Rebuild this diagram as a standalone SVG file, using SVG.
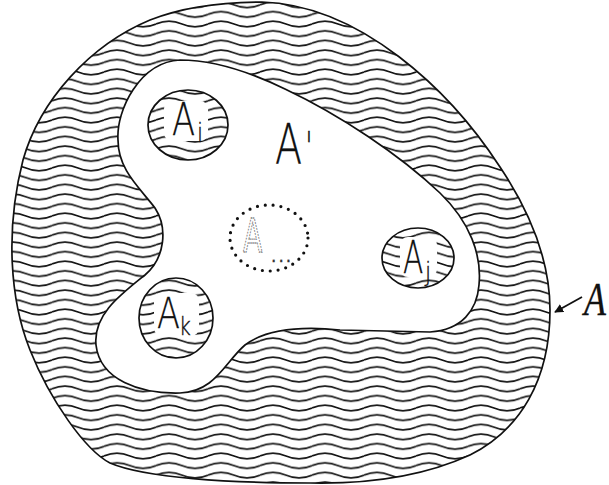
<svg xmlns="http://www.w3.org/2000/svg" width="609" height="485" viewBox="0 0 609 485">
<style>
.bd{stroke:#111;stroke-width:1.7;}
.lbl{font-family:"DejaVu Sans","Liberation Sans",sans-serif;font-weight:200;fill:#111;stroke:#111;stroke-width:0.3;}
.sub{font-family:"DejaVu Sans","Liberation Sans",sans-serif;font-weight:200;fill:#111;stroke:#111;stroke-width:0.4;}
.hole{fill:#fff;stroke:none;}
</style>
<defs>
<pattern id="wave" width="52" height="9.6" patternUnits="userSpaceOnUse">
<path d="M0,4.8 Q13,-0.8 26,4.8 T52,4.8" fill="none" stroke="#111" stroke-width="1.6"/>
</pattern>
<marker id="ah" viewBox="0 0 10 10" refX="9" refY="5" markerWidth="5" markerHeight="5" orient="auto" markerUnits="strokeWidth">
<path d="M0,0 L10,5 L0,10 Z" fill="#111"/>
</marker>
</defs>
<rect width="609" height="485" fill="#fff"/>
<g id="node-A">
<path class="bd" fill="url(#wave)" d="M262,2 C360,5 450,90 500,167 C530,212 550,260 550,310 C550,380 520,430 470,455 C420,478 360,484 310,483 C230,483 145,478 110,463 C85,450 50,400 30,350 C10,300 5,230 23,160 C40,100 90,45 150,20 C185,6 225,2 262,2 Z"/>
<text transform="translate(584,315) scale(0.78,1)" font-family="Liberation Serif,serif" font-style="italic" font-size="46" fill="#111" stroke="#111" stroke-width="0.3">A</text>
</g>
<g id="node-Aprime">
<path class="bd" fill="#fff" d="M180,60 C215,60 250,72 285,89 C340,115 400,155 440,193 C470,222 482,255 479,285 C477,310 462,330 430,332 L340,330 C300,326 265,330 245,345 C225,362 215,392 180,393 C140,394 100,380 96,345 C93,315 120,295 145,275 C165,258 168,228 155,208 C140,188 118,170 118,140 C116,110 140,62 180,60 Z"/>
<text class="lbl" transform="translate(275,163) scale(0.72,1)" font-size="55">A<tspan dx="4" dy="-2" font-size="40">'</tspan></text>
</g>
<g id="node-Ai">
<ellipse class="bd" cx="188" cy="125" rx="40" ry="35" fill="url(#wave)"/>
<rect class="hole" x="164" y="101" width="44" height="40" rx="8"/>
<text class="lbl" transform="translate(172,135) scale(0.75,1)" font-size="45">A</text>
<text class="sub" transform="translate(197,142) scale(0.85,1)" font-size="26">i</text>
</g>
<g id="node-Aj">
<ellipse class="bd" cx="418" cy="258" rx="36" ry="30" fill="url(#wave)"/>
<rect class="hole" x="400" y="237" width="37" height="40" rx="8"/>
<text class="lbl" transform="translate(403,273) scale(0.66,1)" font-size="45">A</text>
<text class="sub" transform="translate(425,281) scale(0.85,1)" font-size="26">j</text>
</g>
<g id="node-Ak">
<ellipse class="bd" cx="176" cy="318" rx="37" ry="40" fill="url(#wave)"/>
<rect class="hole" x="154" y="293" width="45" height="43" rx="8"/>
<text class="lbl" transform="translate(157,328) scale(0.78,1)" font-size="43">A</text>
<text class="sub" transform="translate(179,335) scale(0.85,1)" font-size="24">k</text>
</g>
<g id="node-Adots">
<ellipse cx="269" cy="238" rx="39" ry="33" fill="none" stroke="#111" stroke-width="3.2" stroke-linecap="round" stroke-dasharray="0 7.9"/>
<text transform="translate(243,252) scale(0.6,1)" font-family="DejaVu Sans,sans-serif" font-size="47" fill="#fff" stroke="#777" stroke-width="1.3" stroke-dasharray="2 1.2">A</text>
<text x="271" y="262" font-family="DejaVu Sans,sans-serif" font-size="17" fill="#333" stroke="#333" stroke-width="0.3" letter-spacing="2">...</text>
</g>
<g id="connectors">
<line x1="582" y1="297" x2="555" y2="312" stroke="#111" stroke-width="1.8" marker-end="url(#ah)"/>
</g>
</svg>
